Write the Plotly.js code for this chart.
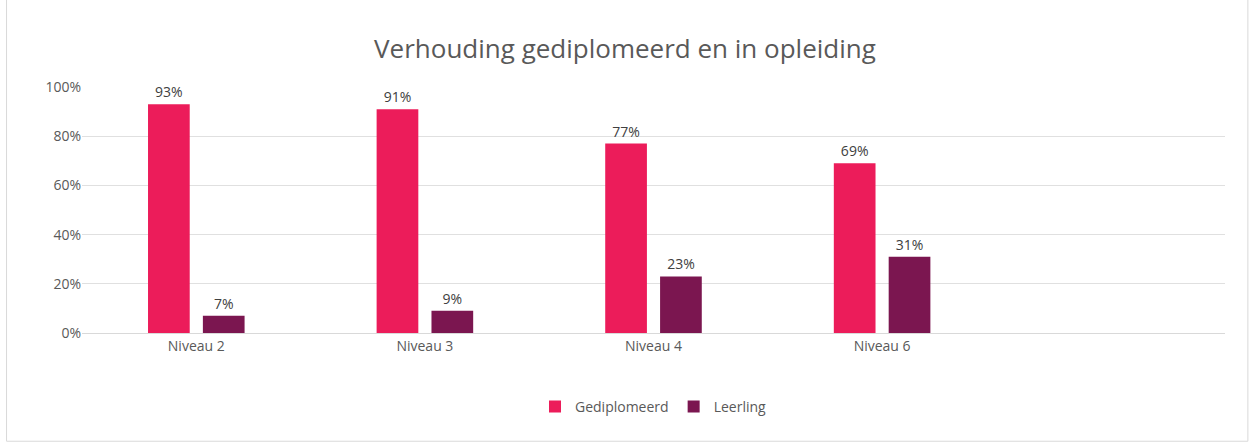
<!DOCTYPE html>
<html><head><meta charset="utf-8">
<script src="https://cdn.plot.ly/plotly-3.0.1.min.js"></script>
<style>body{margin:0;background:#fff}#c{width:1250px;height:442px}</style>
</head><body><div id="c"></div>
<script>
const categories = ["Niveau 2","Niveau 3","Niveau 4","Niveau 6"];
const gediplomeerd = [0.93,0.91,0.77,0.69];
const leerling = [0.07,0.09,0.23,0.31];
const yTicks = [0,0.2,0.4,0.6,0.8,1.0];
const yTickLabels = ["0%","20%","40%","60%","80%","100%"];
const txt = v => Math.round(v*100)+"%";
const font = {family:"Open Sans, Lato, sans-serif", color:"#595959", size:13};
Plotly.newPlot("c",[
 {type:"bar",name:"Gediplomeerd",x:categories,y:gediplomeerd,marker:{color:"#EC1C5A"},
  text:gediplomeerd.map(txt),textposition:"outside",cliponaxis:false,textfont:{color:"#404040",size:14}},
 {type:"bar",name:"Leerling",x:categories,y:leerling,marker:{color:"#7B1650"},
  text:leerling.map(txt),textposition:"outside",cliponaxis:false,textfont:{color:"#404040",size:14}}
],{
 width:1250,height:442,margin:{l:82,r:25,t:87,b:109},
 paper_bgcolor:"#fff",plot_bgcolor:"#fff",font:font,
 title:{text:"Verhouding gediplomeerd en in opleiding",x:0.5,y:0.91,font:{size:26,color:"#595959"}},
 barmode:"group",bargap:0.52,bargroupgap:0.24,
 xaxis:{type:"category",range:[-0.5,4.5],showgrid:false,showline:true,linecolor:"#d9d9d9",ticks:"",tickfont:{size:14,color:"#595959"}},
 yaxis:{range:[0,1.0],tickvals:yTicks,ticktext:yTickLabels,gridcolor:"#e0e0e0",zeroline:false,showline:false,tickfont:{size:14,color:"#595959"}},
 legend:{orientation:"h",x:0.5,xanchor:"center",y:-0.3,yanchor:"middle",font:{size:14,color:"#595959"}},
 showlegend:true,
 shapes:[{type:"rect",xref:"paper",yref:"paper",x0:-0.066,x1:1.02,y0:-0.44,y1:1.37,line:{color:"#d9d9d9",width:1}}]
},{displayModeBar:false});
</script></body></html>
